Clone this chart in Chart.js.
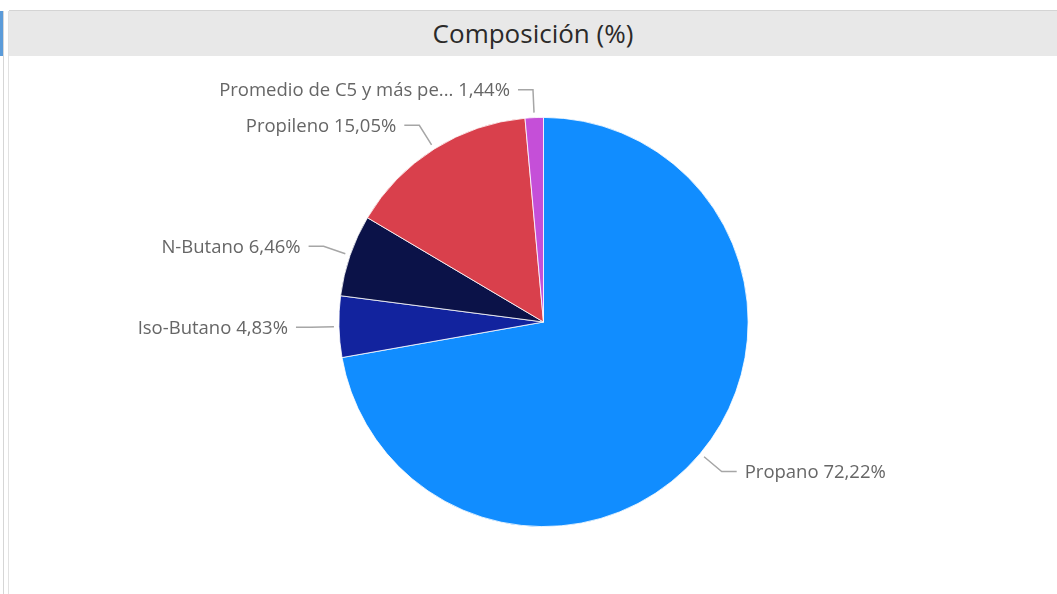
<!DOCTYPE html>
<html>
<head>
<meta charset="utf-8">
<script src="https://cdn.jsdelivr.net/npm/chart.js@4"></script>
<style>
  html, body { margin: 0; padding: 0; background: #ffffff; }
  body { width: 1057px; height: 594px; position: relative; overflow: hidden; font-family: "Open Sans", sans-serif; }
  #leftEdge { position: absolute; left: 0; top: 11px; width: 3px; height: 45px; background: #5b9bd9; }
  #line1 { position: absolute; left: 3px; top: 11px; width: 1px; height: 583px; background: #d6d6d6; }
  #line2 { position: absolute; left: 8px; top: 11px; width: 1px; height: 583px; background: #e2e2e2; }
  #titleBar {
    position: absolute; left: 9px; top: 10px; width: 1048px; height: 45px;
    background: #e8e8e8; border-top: 1px solid #d4d4d4;
    text-align: center; line-height: 44px; font-size: 26px; color: #2b2a29;
  }
  #wrap { position: absolute; left: 0; top: 55px; width: 1057px; height: 539px; }
</style>
</head>
<body>
<div id="leftEdge"></div>
<div id="line1"></div>
<div id="line2"></div>
<div id="titleBar">Composición (%)</div>
<div id="wrap"><canvas id="pieChart"></canvas></div>
<script>
const categorias = ["Propano", "Iso-Butano", "N-Butano", "Propileno", "Promedio de C5 y más pe..."];
const valores = [72.22, 4.83, 6.46, 15.05, 1.44];
const colores = ["#118dff", "#12239e", "#0b1248", "#d9404c", "#c54fd8"];

// etiquetas con linea guia, tipo Power BI
const leaderLabels = {
    id: "leaderLabels",
    afterDatasetsDraw(chart) {
        const ctx = chart.ctx;
        const meta = chart.getDatasetMeta(0);
        ctx.save();
        ctx.font = "18.5px 'Open Sans', sans-serif";
        ctx.textBaseline = "middle";
        meta.data.forEach((arc, i) => {
            const p = arc.getProps(["x", "y", "startAngle", "endAngle", "outerRadius"], true);
            const mid = (p.startAngle + p.endAngle) / 2;
            const cos = Math.cos(mid), sin = Math.sin(mid);
            const x1 = p.x + cos * (p.outerRadius + 5);
            const y1 = p.y + sin * (p.outerRadius + 5);
            const x2 = p.x + cos * (p.outerRadius + 28);
            const y2 = p.y + sin * (p.outerRadius + 28);
            const dir = cos >= 0 ? 1 : -1;
            const x3 = x2 + dir * 15;
            ctx.strokeStyle = "#a6a6a6";
            ctx.lineWidth = 1.5;
            ctx.beginPath();
            ctx.moveTo(x1, y1);
            ctx.lineTo(x2, y2);
            ctx.lineTo(x3, y2);
            ctx.stroke();
            const texto = categorias[i] + " " + valores[i].toFixed(2).replace(".", ",") + "%";
            ctx.fillStyle = "#666666";
            ctx.textAlign = dir > 0 ? "left" : "right";
            ctx.fillText(texto, x3 + dir * 8, y2 + 1);
        });
        ctx.restore();
    }
};

new Chart(document.getElementById("pieChart"), {
    type: "pie",
    data: {
        labels: categorias,
        datasets: [
            {
                label: "Composición (%)",
                data: valores,
                backgroundColor: colores,
                borderColor: "#ffffff",
                borderWidth: 0.8,
            },
        ],
    },
    options: {
        responsive: true,
        maintainAspectRatio: false,
        animation: false,
        layout: { padding: { left: 30, right: 0, top: 62, bottom: 67 } },
        plugins: {
            legend: { display: false },
            tooltip: { enabled: false },
        },
    },
    plugins: [leaderLabels],
});
</script>
</body>
</html>
